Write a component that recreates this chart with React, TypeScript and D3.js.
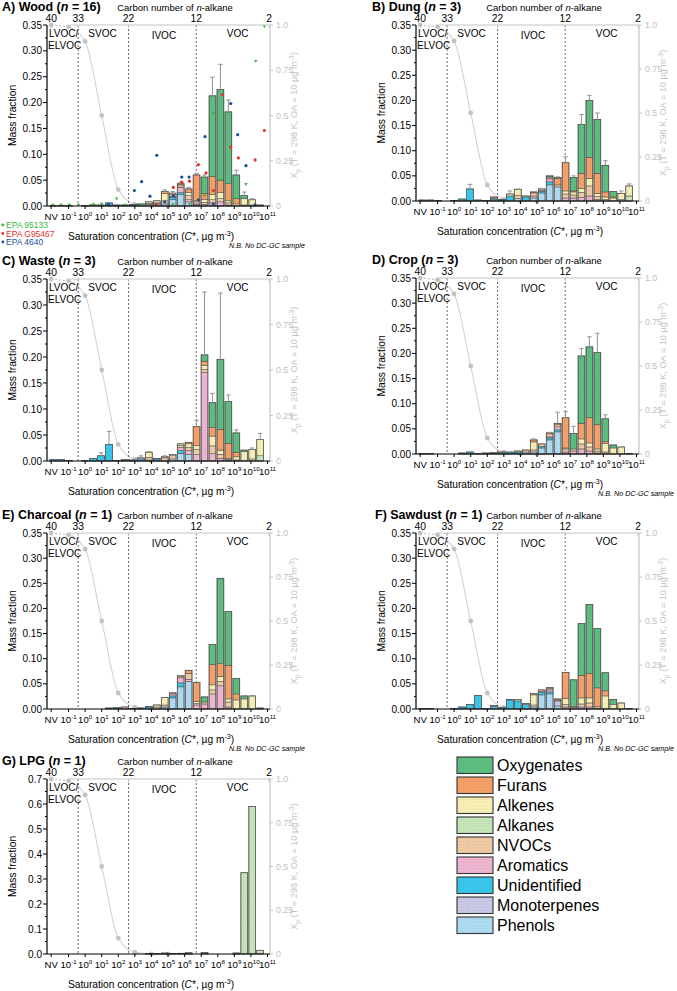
import React from "react";
import * as d3 from "d3";

const FONT = "'Liberation Sans', Arial, Helvetica, sans-serif";

// ---------- categories ----------
const CATEGORIES = ["Oxygenates", "Furans", "Alkenes", "Alkanes", "NVOCs", "Aromatics", "Unidentified", "Monoterpenes", "Phenols"];
const CATEGORY_COLORS = ["#5dbd80", "#f4a068", "#f6eeb3", "#c6e4b8", "#f0caa5", "#eeb5d0", "#3ac6eb", "#c9c8e5", "#aedaf2"];
const STACK_KEYS = ["Phenols", "Monoterpenes", "Unidentified", "Aromatics", "NVOCs", "Alkanes", "Alkenes", "Furans", "Oxygenates"];

// ---------- x categories (log10 C*) ----------
const BIN_LOGC = [-1.92, -1.44, -0.96, -0.48, 0, 0.48, 0.96, 1.44, 1.92, 2.4, 2.88, 3.36, 3.84, 4.32, 4.8, 5.28, 5.76, 6.24, 6.72, 7.2, 7.68, 8.16, 8.64, 9.12, 9.6, 10.08, 10.56];
const X_DOMAIN = [-2.3, 11.15];
const BOTTOM_TICK_POS = [-2.05, -1, 0, 1, 2, 3, 4, 5, 6, 7, 8, 9, 10, 11];
const BOTTOM_TICK_EXP = [null, "-1", "0", "1", "2", "3", "4", "5", "6", "7", "8", "9", "10", "11"];
const CARBON_LABELS = ["40", "33", "22", "12", "2"];
const CARBON_POS = [-2.05, -0.42, 2.62, 6.7, 11.1];
const DIVIDER_POS = [-0.42, 2.62, 6.7];
const REGION_LABELS = ["SVOC", "IVOC", "VOC"];
const REGION_POS = [1.05, 4.75, 9.2];

// ---------- partitioning curve ----------
const XP_POS = [-2.05, -1, 0, 1, 2, 3, 4, 5];
const XP_VALUES = [1.0, 0.99, 0.909, 0.5, 0.0909, 0.0099, 0.001, 0.0001];
const XP_TICKS = [0, 0.25, 0.5, 0.75, 1.0];
const XP_TICK_LABELS = ["0", "0.25", "0.5", "0.75", "1.0"];

// rows: [bin, Oxygenates, Furans, Alkenes, Alkanes, NVOCs, Aromatics, Unidentified, Monoterpenes, Phenols]
const WOOD = [
  [0, 0, 0, 0, 0, 0, 0, 0.001, 0, 0], [1, 0, 0, 0, 0, 0, 0, 0.001, 0, 0], [2, 0, 0, 0, 0, 0, 0, 0.001, 0, 0],
  [4, 0, 0, 0, 0, 0, 0, 0.001, 0, 0], [5, 0, 0, 0, 0, 0, 0, 0.002, 0, 0], [6, 0, 0, 0, 0, 0, 0, 0.002, 0, 0],
  [7, 0, 0, 0, 0, 0, 0, 0.004, 0, 0.002], [8, 0, 0, 0, 0, 0, 0, 0.002, 0, 0], [9, 0, 0, 0, 0, 0.001, 0, 0.001, 0, 0],
  [10, 0, 0, 0, 0, 0.001, 0, 0.002, 0, 0], [11, 0, 0, 0, 0, 0.001, 0, 0.003, 0, 0],
  [12, 0, 0, 0.003, 0, 0.002, 0, 0, 0, 0.003], [13, 0, 0, 0.004, 0, 0, 0, 0.002, 0, 0.004],
  [14, 0, 0.004, 0.014, 0, 0.006, 0, 0, 0, 0.004], [15, 0, 0, 0.003, 0, 0.003, 0.002, 0.005, 0, 0.012],
  [16, 0, 0.002, 0.002, 0, 0.003, 0.01, 0.004, 0, 0.022], [17, 0, 0.007, 0.006, 0, 0.008, 0.004, 0, 0, 0.008],
  [18, 0, 0.05, 0.002, 0, 0.004, 0.002, 0, 0, 0.002], [19, 0.032, 0.012, 0.005, 0, 0.004, 0.003, 0, 0, 0],
  [20, 0.156, 0.035, 0.01, 0, 0.006, 0.006, 0, 0, 0], [21, 0.175, 0.024, 0.012, 0, 0.006, 0.008, 0, 0, 0],
  [22, 0.139, 0.033, 0.004, 0, 0.004, 0.002, 0, 0, 0], [23, 0.046, 0.01, 0.004, 0, 0, 0, 0, 0, 0],
  [24, 0.006, 0, 0.012, 0.002, 0, 0, 0, 0, 0], [25, 0, 0, 0.01, 0.002, 0, 0, 0, 0, 0], [26, 0, 0, 0.002, 0, 0, 0, 0, 0, 0],
];
const WOOD_ERR = [[14, 0.031], [15, 0.028], [16, 0.046], [17, 0.036], [18, 0.063], [19, 0.06], [20, 0.249], [21, 0.274], [22, 0.205], [23, 0.069], [24, 0.027], [25, 0.014]];

const DUNG = [
  [0, 0, 0, 0, 0, 0, 0, 0.002, 0, 0], [1, 0, 0, 0, 0, 0, 0, 0.002, 0, 0], [2, 0, 0, 0, 0, 0, 0, 0.001, 0, 0],
  [4, 0, 0, 0, 0, 0, 0, 0.001, 0, 0], [5, 0, 0, 0, 0, 0, 0, 0.004, 0, 0], [6, 0, 0, 0, 0, 0, 0, 0.024, 0, 0],
  [7, 0, 0, 0, 0, 0, 0, 0.002, 0, 0], [8, 0, 0, 0, 0, 0, 0, 0.001, 0, 0], [9, 0, 0, 0, 0, 0.002, 0.002, 0.004, 0, 0],
  [10, 0, 0, 0, 0, 0, 0.001, 0.002, 0, 0], [11, 0, 0, 0.004, 0, 0, 0, 0.01, 0, 0],
  [12, 0, 0, 0.012, 0, 0.006, 0, 0, 0, 0.005], [13, 0, 0, 0.002, 0, 0, 0, 0.008, 0, 0],
  [14, 0, 0.002, 0, 0, 0.006, 0.004, 0, 0, 0.006], [15, 0, 0, 0, 0, 0.003, 0.002, 0.003, 0, 0.016],
  [16, 0.002, 0, 0.002, 0, 0.002, 0.006, 0.006, 0, 0.032], [17, 0.002, 0.013, 0, 0, 0.004, 0, 0, 0, 0.028],
  [18, 0, 0.056, 0.006, 0, 0.008, 0.006, 0, 0, 0], [19, 0.027, 0.002, 0.006, 0, 0.006, 0.006, 0, 0, 0],
  [20, 0.097, 0.03, 0.008, 0, 0.01, 0.007, 0, 0, 0], [21, 0.113, 0.042, 0.015, 0, 0.02, 0.01, 0, 0, 0],
  [22, 0.107, 0.04, 0.006, 0, 0.006, 0.003, 0, 0, 0], [23, 0.053, 0.01, 0.005, 0, 0.003, 0, 0, 0, 0],
  [24, 0.011, 0.002, 0.006, 0, 0, 0, 0, 0, 0], [25, 0, 0, 0.012, 0.003, 0, 0, 0, 0, 0], [26, 0, 0, 0.02, 0.01, 0, 0, 0, 0, 0],
];
const DUNG_ERR = [[6, 0.033], [11, 0.02], [12, 0.024], [15, 0.025], [16, 0.051], [17, 0.048], [18, 0.088], [19, 0.05], [20, 0.172], [21, 0.21], [22, 0.175], [23, 0.08], [25, 0.02], [26, 0.034]];

const WASTE = [
  [0, 0, 0, 0, 0, 0, 0, 0.003, 0, 0], [1, 0, 0, 0, 0, 0, 0, 0.003, 0, 0], [2, 0, 0, 0, 0, 0, 0, 0.001, 0, 0],
  [4, 0, 0, 0, 0, 0, 0, 0.001, 0, 0], [5, 0, 0, 0, 0, 0, 0, 0.005, 0, 0], [6, 0, 0, 0, 0, 0, 0, 0.01, 0, 0],
  [7, 0, 0, 0, 0, 0, 0, 0.032, 0, 0], [8, 0, 0, 0, 0, 0, 0, 0.001, 0, 0], [9, 0, 0, 0, 0, 0.002, 0, 0.001, 0, 0],
  [10, 0, 0, 0, 0, 0, 0, 0.002, 0, 0], [11, 0, 0, 0.002, 0, 0, 0, 0.004, 0, 0],
  [12, 0, 0, 0.01, 0, 0.005, 0, 0, 0, 0.002], [13, 0, 0, 0, 0, 0.001, 0, 0.004, 0, 0],
  [14, 0, 0.002, 0, 0, 0.006, 0, 0, 0, 0], [15, 0, 0, 0.002, 0, 0.006, 0, 0, 0, 0.004],
  [16, 0, 0, 0.003, 0, 0.004, 0.006, 0.005, 0, 0.015], [17, 0, 0.003, 0.007, 0, 0.006, 0.008, 0, 0, 0.012],
  [18, 0, 0.036, 0.008, 0, 0.01, 0.012, 0, 0, 0], [19, 0.012, 0.008, 0.008, 0, 0.006, 0.17, 0, 0, 0],
  [20, 0.048, 0.016, 0.019, 0, 0.015, 0.014, 0, 0, 0], [21, 0.134, 0.04, 0.008, 0, 0.008, 0.005, 0, 0, 0],
  [22, 0.08, 0.029, 0.002, 0, 0.002, 0.001, 0, 0, 0], [23, 0.037, 0.009, 0.006, 0, 0.002, 0, 0, 0, 0],
  [24, 0.003, 0, 0.018, 0, 0, 0, 0, 0, 0], [25, 0, 0, 0.018, 0.004, 0, 0, 0, 0, 0], [26, 0, 0, 0.031, 0.01, 0, 0, 0, 0, 0],
];
const WASTE_ERR = [[6, 0.016], [7, 0.057], [11, 0.01], [12, 0.018], [14, 0.01], [18, 0.078], [19, 0.325], [20, 0.13], [21, 0.323], [22, 0.127], [23, 0.06], [25, 0.025], [26, 0.053]];

const CROP = [
  [0, 0, 0, 0, 0, 0, 0, 0.001, 0, 0], [1, 0, 0, 0, 0, 0, 0, 0.001, 0, 0], [5, 0, 0, 0, 0, 0, 0, 0.002, 0, 0],
  [6, 0, 0, 0, 0, 0, 0, 0.004, 0, 0], [7, 0, 0, 0, 0, 0, 0, 0.001, 0, 0], [8, 0, 0, 0, 0, 0, 0, 0.002, 0, 0],
  [9, 0, 0, 0, 0, 0, 0.002, 0.001, 0, 0], [10, 0, 0, 0, 0, 0.001, 0, 0.003, 0, 0], [11, 0, 0, 0, 0, 0, 0, 0.004, 0, 0],
  [12, 0, 0, 0.002, 0, 0, 0, 0.004, 0, 0], [13, 0, 0, 0, 0, 0.004, 0, 0, 0, 0.004],
  [14, 0, 0.004, 0.016, 0, 0.004, 0, 0, 0, 0.004], [15, 0, 0, 0, 0, 0.005, 0, 0.003, 0, 0.012],
  [16, 0, 0.002, 0, 0, 0.006, 0.002, 0.004, 0, 0.028], [17, 0, 0.003, 0, 0, 0.004, 0.006, 0.004, 0, 0.044],
  [18, 0, 0.06, 0.002, 0, 0.006, 0.004, 0, 0, 0], [19, 0.031, 0, 0, 0, 0.004, 0.006, 0, 0, 0],
  [20, 0.134, 0.031, 0.01, 0, 0.01, 0.01, 0, 0, 0], [21, 0.141, 0.05, 0.008, 0, 0.008, 0.006, 0, 0, 0],
  [22, 0.144, 0.048, 0.004, 0, 0.004, 0.002, 0, 0, 0], [23, 0.045, 0.004, 0.017, 0, 0.004, 0, 0, 0, 0],
  [24, 0.006, 0, 0.012, 0, 0, 0, 0, 0, 0], [25, 0, 0, 0.014, 0, 0, 0, 0, 0, 0], [26, 0, 0, 0.001, 0, 0, 0, 0, 0, 0],
];
const CROP_ERR = [[14, 0.03], [15, 0.021], [16, 0.043], [17, 0.083], [18, 0.084], [19, 0.055], [20, 0.21], [21, 0.233], [22, 0.24], [23, 0.078]];

const CHARCOAL = [
  [7, 0, 0, 0, 0, 0, 0, 0.002, 0, 0], [8, 0, 0, 0, 0, 0, 0, 0.003, 0, 0], [9, 0, 0, 0, 0, 0, 0.004, 0, 0, 0],
  [10, 0, 0, 0, 0, 0, 0, 0.001, 0, 0], [11, 0, 0, 0, 0, 0, 0, 0.002, 0, 0], [12, 0, 0, 0, 0, 0.001, 0, 0.004, 0, 0],
  [13, 0, 0, 0.004, 0, 0.004, 0, 0, 0, 0], [14, 0, 0, 0.015, 0, 0.004, 0, 0, 0, 0.004],
  [15, 0, 0, 0, 0, 0.002, 0.004, 0.004, 0, 0.022], [16, 0, 0, 0.002, 0, 0.002, 0.01, 0.008, 0, 0.044],
  [17, 0, 0.006, 0, 0, 0.012, 0.004, 0, 0, 0.055], [18, 0, 0.038, 0.004, 0, 0.003, 0.008, 0, 0, 0],
  [19, 0.01, 0, 0, 0, 0.004, 0.01, 0, 0, 0], [20, 0.04, 0.04, 0.01, 0, 0.008, 0.03, 0, 0, 0],
  [21, 0.17, 0.025, 0.01, 0, 0.009, 0.046, 0, 0, 0], [22, 0.107, 0.067, 0.006, 0, 0.01, 0.004, 0, 0, 0],
  [23, 0.031, 0.012, 0.018, 0, 0, 0, 0, 0, 0], [24, 0.006, 0, 0.02, 0, 0, 0, 0, 0, 0],
  [25, 0, 0, 0.026, 0, 0, 0, 0, 0, 0], [26, 0, 0, 0.002, 0, 0, 0, 0, 0, 0],
];

const SAWDUST = [
  [0, 0, 0, 0, 0, 0, 0, 0.001, 0, 0], [1, 0, 0, 0, 0, 0, 0, 0.001, 0, 0], [4, 0, 0, 0, 0, 0, 0, 0.001, 0, 0],
  [5, 0, 0, 0, 0, 0, 0, 0.004, 0, 0], [6, 0, 0, 0, 0, 0, 0, 0.009, 0, 0], [7, 0, 0, 0, 0, 0, 0, 0.027, 0, 0],
  [8, 0, 0, 0, 0, 0, 0, 0.001, 0, 0], [9, 0, 0, 0, 0, 0, 0.002, 0.005, 0, 0], [10, 0, 0, 0, 0, 0, 0, 0.003, 0, 0],
  [11, 0, 0, 0, 0, 0.001, 0, 0.018, 0, 0], [12, 0, 0, 0.003, 0, 0, 0, 0.016, 0, 0],
  [13, 0, 0, 0, 0, 0.002, 0, 0.009, 0, 0], [14, 0, 0.003, 0.02, 0, 0.004, 0, 0, 0, 0.004],
  [15, 0, 0, 0, 0, 0.003, 0.002, 0.005, 0, 0.028], [16, 0, 0, 0.002, 0, 0.003, 0.004, 0.004, 0, 0.03],
  [17, 0, 0.002, 0, 0, 0, 0.002, 0, 0.01, 0.006], [18, 0, 0.052, 0.012, 0, 0.005, 0.004, 0, 0, 0],
  [19, 0.053, 0, 0, 0, 0.002, 0.003, 0, 0, 0], [20, 0.103, 0.045, 0.012, 0, 0.006, 0.004, 0, 0, 0],
  [21, 0.137, 0.049, 0.01, 0, 0.008, 0.004, 0, 0, 0], [22, 0.118, 0.037, 0.003, 0, 0.002, 0, 0, 0, 0],
  [23, 0.036, 0.01, 0.026, 0, 0, 0, 0, 0, 0], [24, 0.01, 0, 0.009, 0, 0, 0, 0, 0, 0],
  [25, 0, 0, 0.012, 0, 0, 0, 0, 0, 0], [26, 0, 0, 0.001, 0, 0, 0, 0, 0, 0],
];

const LPG = [
  [12, 0, 0, 0, 0, 0.002, 0, 0, 0, 0], [13, 0, 0, 0, 0, 0.002, 0, 0, 0, 0], [14, 0, 0, 0, 0, 0.004, 0, 0, 0, 0],
  [15, 0, 0, 0, 0, 0.002, 0, 0, 0, 0], [16, 0, 0, 0, 0, 0, 0.003, 0, 0, 0], [17, 0, 0, 0, 0, 0.004, 0.001, 0, 0, 0],
  [19, 0.006, 0, 0, 0, 0, 0, 0, 0, 0], [23, 0, 0, 0, 0.004, 0, 0, 0, 0, 0], [24, 0, 0, 0, 0.325, 0, 0, 0, 0, 0],
  [25, 0, 0, 0, 0.59, 0, 0, 0, 0, 0], [26, 0, 0, 0, 0.015, 0, 0, 0, 0, 0],
];

// EPA reference profiles (panel A), [log10 C*, mass fraction]
const EPA_95133 = [[-1.95, 0.002], [-1.45, 0.002], [-0.95, 0.002], [-0.4, 0.002], [0.5, 0.003], [1.0, 0.004], [1.9, 0.014], [2.4, 0.002], [3.4, 0.002], [4.3, 0.002], [5.3, 0.003], [6.3, 0.004], [7.2, 0.02], [7.73, 0.18], [8.2, 0.05], [8.78, 0.01], [9.7, 0.042], [10.29, 0.28], [10.81, 0.347]];
const EPA_G95467 = [[5.32, 0.036], [5.83, 0.046], [6.29, 0.048], [6.83, 0.08], [7.29, 0.064], [7.73, 0.03], [8.28, 0.215], [8.78, 0.114], [9.24, 0.093], [10.25, 0.089], [10.81, 0.146], [4.3, 0.003]];
const EPA_4640 = [[1.4, 0.003], [2.97, 0.03], [3.41, 0.047], [3.91, 0.019], [4.32, 0.098], [4.8, 0.008], [5.32, 0.02], [5.83, 0.056], [6.27, 0.056], [6.83, 0.012], [7.23, 0.134], [7.73, 0.004], [8.78, 0.198], [9.2, 0.138], [9.7, 0.078], [10.25, 0.002]];
const EPA_NAMES = ["EPA 95133", "EPA G95467", "EPA 4640"];
const EPA_COLORS = ["#3cb43c", "#e5312d", "#1f4e9a"];

const PANELS = [
  { id: "A", name: "A) Wood (", n: "16", rows: WOOD, errs: WOOD_ERR, box: [47, 270, 25, 206], ymax: 0.35, ystep: 0.05, fmt: ".2f", tx: 2, nb: true, epa: true },
  { id: "B", name: "B) Dung (", n: "3", rows: DUNG, errs: DUNG_ERR, box: [416, 639, 25, 201], ymax: 0.35, ystep: 0.05, fmt: ".2f", tx: 372, nb: false, epa: false },
  { id: "C", name: "C) Waste (", n: "3", rows: WASTE, errs: WASTE_ERR, box: [47, 270, 279, 461], ymax: 0.35, ystep: 0.05, fmt: ".2f", tx: 2, nb: false, epa: false },
  { id: "D", name: "D) Crop (", n: "3", rows: CROP, errs: CROP_ERR, box: [416, 639, 278, 454], ymax: 0.35, ystep: 0.05, fmt: ".2f", tx: 372, nb: true, epa: false },
  { id: "E", name: "E) Charcoal (", n: "1", rows: CHARCOAL, errs: [], box: [47, 270, 533, 709], ymax: 0.35, ystep: 0.05, fmt: ".2f", tx: 2, nb: true, epa: false },
  { id: "F", name: "F) Sawdust (", n: "1", rows: SAWDUST, errs: [], box: [416, 639, 533, 709], ymax: 0.35, ystep: 0.05, fmt: ".2f", tx: 375, nb: true, epa: false },
  { id: "G", name: "G) LPG (", n: "1", rows: LPG, errs: [], box: [47, 270, 779, 954], ymax: 0.7, ystep: 0.1, fmt: ".1f", tx: 2, nb: false, epa: false },
];

const GRAY = "#c4c4c4";

function Panel({ cfg }: { cfg: any }) {
  const [left, right, top, bottom] = cfg.box;
  const x = d3.scaleLinear().domain(X_DOMAIN).range([left, right]);
  const y = d3.scaleLinear().domain([0, cfg.ymax]).range([bottom, top]);
  const yR = d3.scaleLinear().domain([0, 1]).range([bottom, top]);
  const dec = x(1) - x(0);
  const barW = dec * 0.41;
  const fmt = d3.format(cfg.fmt);

  const data = cfg.rows.map((r: number[]) => {
    const o: any = { bin: r[0] };
    CATEGORIES.forEach((c, i) => (o[c] = r[i + 1]));
    return o;
  });
  const series = d3.stack().keys(STACK_KEYS)(data);
  const totals = new Map<number, number>();
  data.forEach((d: any) => totals.set(d.bin, d3.sum(CATEGORIES, (c) => d[c])));

  const nMajor = Math.round(cfg.ymax / cfg.ystep);
  const yTicks = d3.range(0, nMajor + 1).map((i) => i * cfg.ystep);
  const yMinor = d3.range(0, nMajor).map((i) => (i + 0.5) * cfg.ystep);

  const pts: [number, number][] = XP_POS.map((u, i) => [x(u), yR(XP_VALUES[i])]);
  const curve = d3.line().curve(d3.curveMonotoneX)(pts.slice(1)) || "";

  const cy = (top + bottom) / 2;

  return (
    <g fontFamily={FONT}>
      {/* title */}
      <text x={cfg.tx} y={top - 14} fontSize={12.5} fontWeight="bold">
        {cfg.name}
        <tspan fontStyle="italic">n</tspan>
        {" = " + cfg.n + ")"}
      </text>
      <text x={left + 128} y={top - 14} fontSize={9.5} textAnchor="middle">
        Carbon number of <tspan fontStyle="italic">n</tspan>-alkane
      </text>

      {/* partitioning curve (behind bars) */}
      <line x1={pts[0][0]} y1={pts[0][1]} x2={pts[1][0]} y2={pts[1][1]} stroke="#b8b8b8" strokeWidth={1} strokeDasharray="2,2" />
      <path d={curve} fill="none" stroke="#d2d2d2" strokeWidth={1.1} />
      {pts.map((p, i) => (
        <circle key={"xp" + i} cx={p[0]} cy={p[1]} r={2.4} fill="#c2c2c2" />
      ))}

      {/* divider lines */}
      {DIVIDER_POS.map((u, i) => (
        <line key={"dv" + i} x1={x(u)} x2={x(u)} y1={top} y2={bottom} stroke="#444" strokeWidth={0.8} strokeDasharray="2,2" />
      ))}

      {/* bars */}
      {series.map((s: any) => {
        const ci = CATEGORIES.indexOf(s.key);
        return (
          <g key={s.key}>
            {s.map((d: any, di: number) => {
              if (d[1] - d[0] <= 0) return null;
              const u = BIN_LOGC[d.data.bin];
              return (
                <rect
                  key={di}
                  x={x(u) - barW / 2}
                  y={y(d[1])}
                  width={barW}
                  height={Math.max(0.3, y(d[0]) - y(d[1]))}
                  fill={`url(#pat${ci})`}
                  stroke="#3a3a3a"
                  strokeWidth={0.45}
                />
              );
            })}
          </g>
        );
      })}
      {data.map((d: any) => {
        const u = BIN_LOGC[d.bin];
        const t = totals.get(d.bin) || 0;
        return (
          <rect key={"ol" + d.bin} x={x(u) - barW / 2} y={y(t)} width={barW} height={y(0) - y(t)} fill="none" stroke="#555" strokeWidth={0.7} />
        );
      })}

      {/* error bars */}
      {cfg.errs.map((e: number[]) => {
        const u = BIN_LOGC[e[0]];
        const t = totals.get(e[0]) || 0;
        return (
          <g key={"er" + e[0]} stroke="#9a9a9a" strokeWidth={1.1}>
            <line x1={x(u)} x2={x(u)} y1={y(t)} y2={y(e[1])} />
            <line x1={x(u) - 2.2} x2={x(u) + 2.2} y1={y(e[1])} y2={y(e[1])} />
          </g>
        );
      })}

      {/* EPA profiles */}
      {cfg.epa &&
        [EPA_95133, EPA_G95467, EPA_4640].map((arr, k) =>
          arr.map((p, i) =>
            k === 0 ? (
              <path key={"ep" + k + i} d={`M${x(p[0]) - 1.8},${y(p[1]) - 1.2}L${x(p[0]) + 1.8},${y(p[1]) - 1.2}L${x(p[0])},${y(p[1]) + 1.6}Z`} fill={EPA_COLORS[k]} />
            ) : (
              <circle key={"ep" + k + i} cx={x(p[0])} cy={y(p[1])} r={1.6} fill={EPA_COLORS[k]} />
            )
          )
        )}

      {/* region labels */}
      <text x={left + 2} y={top + 12} fontSize={10}>LVOC/</text>
      <text x={left + 1} y={top + 24} fontSize={10}>ELVOC</text>
      {REGION_LABELS.map((t, i) => (
        <text key={t} x={x(REGION_POS[i])} y={top + (i === 1 ? 14 : 12)} fontSize={10} textAnchor="middle">
          {t}
        </text>
      ))}

      {/* top axis */}
      <line x1={x(-0.9)} x2={right} y1={top} y2={top} stroke={GRAY} strokeWidth={1.2} />
      {CARBON_POS.map((u, i) => (
        <g key={"cb" + i}>
          <line x1={x(u)} x2={x(u)} y1={top} y2={top + 3} stroke={GRAY} />
          <text x={x(u)} y={top - 3} fontSize={10.3} textAnchor="middle">
            {CARBON_LABELS[i]}
          </text>
        </g>
      ))}

      {/* right axis */}
      <line x1={right} x2={right} y1={top} y2={bottom} stroke={GRAY} strokeWidth={1.2} />
      {XP_TICKS.map((v, i) => (
        <g key={"rt" + i}>
          <line x1={right} x2={right + 3} y1={yR(v)} y2={yR(v)} stroke={GRAY} />
          <text x={right + 6} y={yR(v) + 3} fontSize={8.8} fill="#c0c0c0">
            {XP_TICK_LABELS[i]}
          </text>
        </g>
      ))}
      <text transform={`translate(${right + 27},${cy}) rotate(-90)`} textAnchor="middle" fontSize={9.2} fill="#c4c4c4">
        X<tspan fontSize={7} dy={2.5}>p</tspan>
        <tspan dy={-2.5}> (T = 298 K, OA = 10 µg m</tspan>
        <tspan fontSize={7} dy={-3.5}>-3</tspan>
        <tspan dy={3.5}>)</tspan>
      </text>

      {/* left axis */}
      <line x1={left} x2={left} y1={top} y2={bottom} stroke="#000" strokeWidth={1.2} />
      {yTicks.map((v, i) => (
        <g key={"lt" + i}>
          <line x1={left - 4} x2={left} y1={y(v)} y2={y(v)} stroke="#000" />
          <text x={left - 5} y={y(v) + 3.6} fontSize={10} textAnchor="end">
            {fmt(v)}
          </text>
        </g>
      ))}
      {yMinor.map((v, i) => (
        <line key={"lm" + i} x1={left - 2} x2={left} y1={y(v)} y2={y(v)} stroke="#000" />
      ))}
      <text transform={`translate(${left - 31},${cy}) rotate(-90)`} textAnchor="middle" fontSize={10.3}>
        Mass fraction
      </text>

      {/* bottom axis */}
      <line x1={left} x2={right} y1={bottom} y2={bottom} stroke="#000" strokeWidth={1.2} />
      {BOTTOM_TICK_POS.map((u, i) => (
        <g key={"bt" + i}>
          <line x1={x(u)} x2={x(u)} y1={bottom} y2={bottom + 3} stroke="#000" />
          <text x={x(u)} y={bottom + 14} fontSize={9.6} textAnchor="middle">
            {BOTTOM_TICK_EXP[i] === null ? (
              "NV"
            ) : (
              <>
                10<tspan fontSize={6.2} dy={-4}>{BOTTOM_TICK_EXP[i]}</tspan>
              </>
            )}
          </text>
        </g>
      ))}
      <text x={left + 104} y={bottom + 34} fontSize={10.2} textAnchor="middle">
        Saturation concentration (<tspan fontStyle="italic">C</tspan>*, µg m<tspan fontSize={7} dy={-4}>-3</tspan>
        <tspan dy={4}>)</tspan>
      </text>
      {cfg.nb && (
        <text x={left + 182} y={bottom + 42} fontSize={7.2} fontStyle="italic">
          N.B. No DC-GC sample
        </text>
      )}

      {cfg.epa &&
        EPA_NAMES.map((nm, k) => (
          <g key={nm}>
            <circle cx={2.8} cy={bottom + 19 + k * 8.5} r={1.4} fill={EPA_COLORS[k]} />
            <text x={6} y={bottom + 22 + k * 8.5} fontSize={8.5} fill={EPA_COLORS[k]}>
              {nm}
            </text>
          </g>
        ))}
    </g>
  );
}

function Legend() {
  return (
    <g fontFamily={FONT}>
      {CATEGORIES.map((c, i) => (
        <g key={c}>
          <rect x={457} y={757 + i * 20} width={36} height={16.5} fill={`url(#pat${i})`} stroke="#333" strokeWidth={1.1} />
          <text x={497} y={757 + i * 20 + 13.5} fontSize={16}>
            {c}
          </text>
        </g>
      ))}
    </g>
  );
}

export default function App() {
  return (
    <svg width={677} height={991} style={{ position: "absolute", left: 0, top: 0, display: "block" }}>
      <defs>
        {CATEGORY_COLORS.map((c, i) => (
          <pattern key={i} id={`pat${i}`} width={3} height={3} patternUnits="userSpaceOnUse">
            <rect width={3} height={3} fill={c} />
            <rect x={1} y={1} width={1} height={1} fill={d3.color(c)!.darker(0.6).formatHex()} opacity={0.35} />
          </pattern>
        ))}
      </defs>
      <rect width={677} height={991} fill="#fff" />
      {PANELS.map((p) => (
        <Panel key={p.id} cfg={p} />
      ))}
      <Legend />
    </svg>
  );
}
